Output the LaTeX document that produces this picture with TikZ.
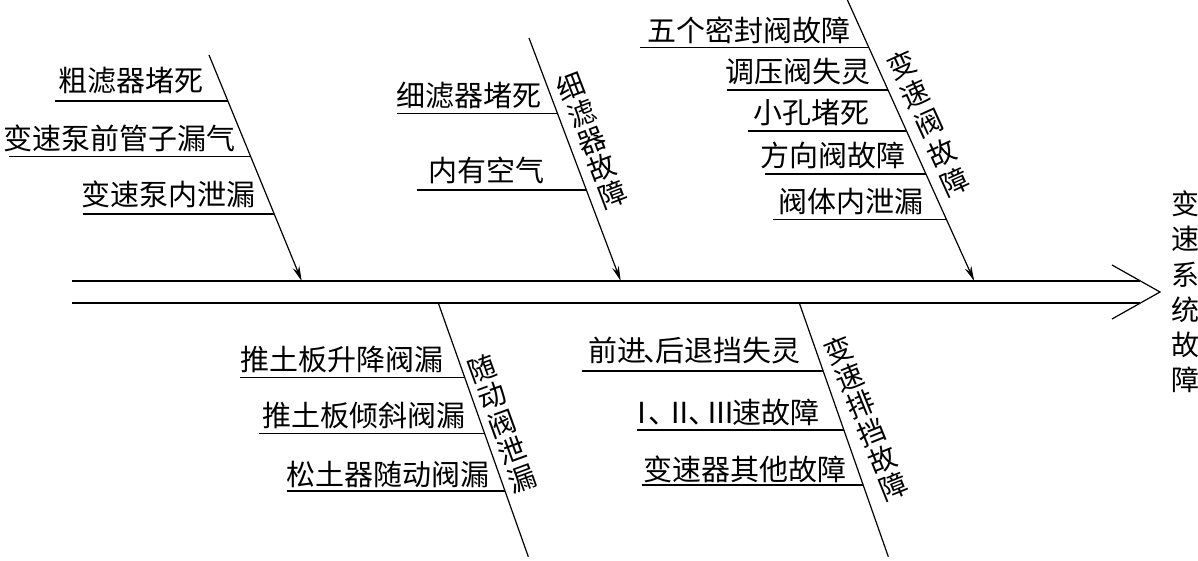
\documentclass[tikz,border=0pt]{standalone}
\usepackage{fontspec}
\setmainfont{Noto Sans CJK SC}
\usetikzlibrary{arrows.meta}
\begin{document}
\begin{tikzpicture}[x=1pt,y=-1pt,
  spine/.style={line width=1.7pt},
  bone/.style={line width=1.2pt},
  arrowbone/.style={bone,-{Stealth[length=15pt,width=7pt]}},
  sub/.style={line width=1.2pt},
  cause/.style={inner sep=0pt,font=\fontsize{29}{31}\selectfont},
  catlabel/.style={inner sep=0pt,align=center,font=\fontsize{28}{#1}\selectfont},
]
\useasboundingbox[fill=white] (0,0) rectangle (1198,561);

% ---- spine ----
\coordinate (s1) at (72,281);  \coordinate (e1) at (1140.4,281);
\coordinate (s2) at (72,303);  \coordinate (e2) at (1140.4,303);
\coordinate (hu) at (1112,265); \coordinate (tip) at (1160,292); \coordinate (hl) at (1112,319);
\draw[spine] (s1) -- (e1);
\draw[spine] (s2) -- (e2);
\draw[bone] (hu) -- (tip) -- (hl);
\node[catlabel=35.2] (effect) at (1185,292) {变\\速\\系\\统\\故\\障};

% ---- top-left bone ----
\coordinate (a1) at (209,55); \coordinate (a1t) at (301.7,281);
\draw[arrowbone] (a1) -- (a1t);
\coordinate (a1c1) at (55,101);   \coordinate (a1d1) at (227.9,101);
\coordinate (a1c2) at (9,156.7);  \coordinate (a1d2) at (250.7,156.7);
\coordinate (a1c3) at (83,214);   \coordinate (a1d3) at (274.2,214);
\draw[sub] (a1c1) -- (a1d1);
\draw[sub] (a1c2) -- (a1d2);
\draw[sub] (a1c3) -- (a1d3);
\node[cause] (t11) at (130.5,80.5) {粗滤器堵死};
\node[cause] (t12) at (119,138.5) {变速泵前管子漏气};
\node[cause] (t13) at (168.5,194) {变速泵内泄漏};

% ---- top-middle bone ----
\coordinate (a2) at (529,38); \coordinate (a2t) at (620.7,281);
\draw[arrowbone] (a2) -- (a2t);
\coordinate (a2c1) at (397,113.3);   \coordinate (a2d1) at (557.4,113.3);
\coordinate (a2c2) at (416.7,190);   \coordinate (a2d2) at (586.4,190);
\draw[sub] (a2c1) -- (a2d1);
\draw[sub] (a2c2) -- (a2d2);
\node[cause] (t21) at (469,95.5) {细滤器堵死};
\node[cause] (t22) at (486.5,170.5) {内有空气};
\node[catlabel=29,rotate=20.9] (l2) at (591.7,140.8) {细\\滤\\器\\故\\障};

% ---- top-right bone ----
\coordinate (a3) at (847.4,0); \coordinate (a3t) at (974.2,281);
\draw[arrowbone] (a3) -- (a3t);
\coordinate (a3c1) at (640,47.7);   \coordinate (a3d1) at (868.9,47.7);
\coordinate (a3c2) at (726.7,90);   \coordinate (a3d2) at (888.0,90);
\coordinate (a3c3) at (748,131);    \coordinate (a3d3) at (906.5,131);
\coordinate (a3c4) at (765,174);    \coordinate (a3d4) at (925.9,174);
\coordinate (a3c5) at (773,219.3);  \coordinate (a3d5) at (946.3,219.3);
\draw[sub] (a3c1) -- (a3d1);
\draw[sub] (a3c2) -- (a3d2);
\draw[sub] (a3c3) -- (a3d3);
\draw[sub] (a3c4) -- (a3d4);
\draw[sub] (a3c5) -- (a3d5);
\node[cause] (t31) at (749,30.5) {五个密封阀故障};
\node[cause] (t32) at (797.5,71.5) {调压阀失灵};
\node[cause] (t33) at (811.5,112.5) {小孔堵死};
\node[cause] (t34) at (833,155) {方向阀故障};
\node[cause] (t35) at (851,201.5) {阀体内泄漏};
\node[catlabel=32,rotate=24.4] (l3) at (928.3,123.3) {变\\速\\阀\\故\\障};

% ---- bottom-left bone ----
\coordinate (b1) at (438.3,303); \coordinate (b1e) at (528.3,556.7);
\draw[bone] (b1) -- (b1e);
\coordinate (b1c1) at (240,377.3);   \coordinate (b1d1) at (464.7,377.3);
\coordinate (b1c2) at (259.3,433.3); \coordinate (b1d2) at (484.5,433.3);
\coordinate (b1c3) at (286.7,491);   \coordinate (b1d3) at (505.0,491);
\draw[sub] (b1c1) -- (b1d1);
\draw[sub] (b1c2) -- (b1d2);
\draw[sub] (b1c3) -- (b1d3);
\node[cause] (u11) at (341.5,360) {推土板升降阀漏};
\node[cause] (u12) at (364,415.5) {推土板倾斜阀漏};
\node[cause] (u13) at (387.5,474.5) {松土器随动阀漏};
\node[catlabel=29.3,rotate=20] (m1) at (501.7,423.3) {随\\动\\阀\\泄\\漏};

% ---- bottom-right bone ----
\coordinate (b2) at (799.3,303); \coordinate (b2e) at (888.3,556.7);
\draw[bone] (b2) -- (b2e);
\coordinate (b2c1) at (581.7,371);  \coordinate (b2d1) at (823.2,371);
\coordinate (b2c2) at (636.7,430);  \coordinate (b2d2) at (843.9,430);
\coordinate (b2c3) at (641.7,485);  \coordinate (b2d3) at (863.1,485);
\draw[sub] (b2c1) -- (b2d1);
\draw[sub] (b2c2) -- (b2d2);
\draw[sub] (b2c3) -- (b2d3);
\node[cause] (u21) at (694.5,350) {前进\kern-.1em、\kern-.6em后退挡失灵};
\node[cause] (u22) at (728,412.5) {\kern-.3emⅠ\kern-.3em、\kern-.4emⅡ\kern-.2em、\kern-.4emⅢ\kern-.1em速故障};
\node[cause] (u23) at (744.5,469.5) {变速器其他故障};
\node[catlabel=29.5,rotate=21.9] (m2) at (865.8,418.3) {变\\速\\排\\挡\\故\\障};
\end{tikzpicture}
\end{document}
